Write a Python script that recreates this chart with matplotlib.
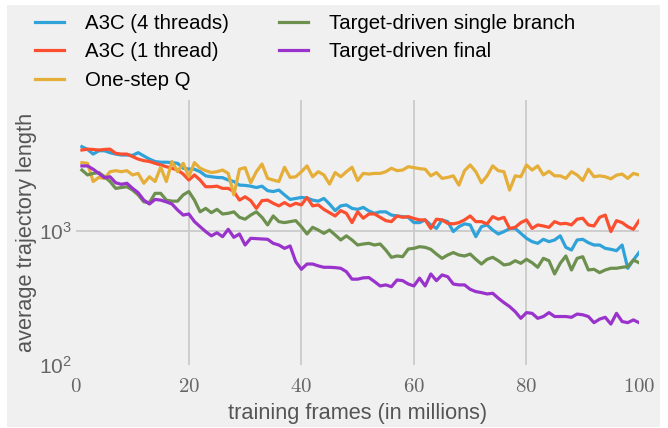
import numpy as np
import matplotlib
matplotlib.use("Agg")
import matplotlib.pyplot as plt
from matplotlib.patches import Rectangle
from matplotlib.ticker import FuncFormatter, FixedLocator, NullLocator, LogFormatterMathtext

# training frames (millions), one point per million
frames = list(range(1, 101))

a3c_4 = [4260, 4060, 3750, 3970, 3970, 3840, 3750, 3690, 3690, 3670,
         3840, 3630, 3440, 3300, 3260, 3260, 3240, 3200, 2940, 2900,
         2890, 2770, 2580, 2540, 2510, 2500, 2400, 2340, 2200, 2190,
         2160, 2110, 2160, 2000, 1970, 2020, 1860, 1720, 1750, 1780,
         1760, 1700, 1670, 1750, 1590, 1420, 1540, 1565, 1475, 1450,
         1500, 1410, 1355, 1390, 1390, 1315, 1295, 1280, 1265, 1155,
         1155, 1210, 1110, 1045, 1210, 1175, 990, 1077, 1130, 1110,
         907, 1077, 1110, 1017, 950, 990, 1040, 1045, 960, 882,
         833, 809, 867, 833, 857, 920, 755, 721, 857, 867,
         818, 786, 786, 742, 730, 713, 786, 527, 607, 690]

a3c_1 = [4020, 4080, 4060, 4020, 4060, 4080, 3800, 3750, 3750, 3590,
         3440, 3350, 3300, 3200, 3110, 3020, 2940, 2850, 2660, 2400,
         2620, 2400, 2140, 2140, 2160, 2080, 2080, 1970, 1700, 1800,
         1685, 1475, 1685, 1700, 1610, 1540, 1630, 1540, 1610, 1565,
         1780, 1540, 1565, 1450, 1370, 1295, 1420, 1355, 1155, 1390,
         1245, 1340, 1340, 1265, 1195, 1175, 1295, 1265, 1280, 1240,
         1210, 1210, 1045, 1225, 1210, 1140, 1130, 1155, 1210, 1295,
         1175, 1175, 1130, 1280, 1225, 1265, 1045, 1065, 1155, 1210,
         1045, 1110, 1090, 1065, 1175, 1130, 1140, 1110, 1225, 1245,
         1110, 1090, 1265, 1315, 990, 1195, 1155, 1077, 1030, 1195]

one_step_q = [3240, 3200, 2340, 2510, 2470, 2770, 2820, 2770, 2820, 2620,
              2690, 2270, 2540, 2340, 2990, 2340, 3300, 2770, 3200, 2540,
              3240, 2940, 2820, 2730, 2770, 2850, 2690, 1860, 2890, 2970,
              2290, 2770, 3160, 2470, 2400, 2340, 2990, 2510, 2540, 2770,
              3060, 2540, 2770, 2620, 2240, 2730, 2540, 2770, 2990, 2380,
              2690, 2660, 2690, 2690, 2770, 2940, 2820, 2850, 3020, 2970,
              2920, 2890, 2580, 2730, 2470, 2510, 2580, 2200, 2820, 3110,
              2770, 2290, 2580, 3060, 2820, 2770, 2020, 2580, 2540, 3110,
              2850, 3060, 2620, 2790, 2580, 2580, 2470, 2770, 2620, 2380,
              2890, 2540, 2580, 2540, 2450, 2610, 2660, 2470, 2690, 2620]

single_branch = [2850, 2620, 2690, 2730, 2540, 2340, 2080, 2110, 2140, 2020,
                 1860, 1650, 1630, 1910, 1910, 1700, 1670, 1670, 1860, 1970,
                 1700, 1390, 1475, 1370, 1450, 1340, 1355, 1390, 1265, 1225,
                 1315, 1390, 1265, 1110, 1295, 1175, 1155, 1175, 1195, 1077,
                 950, 1065, 1017, 960, 1017, 935, 857, 920, 857, 786,
                 800, 809, 786, 800, 721, 636, 651, 643, 734, 742,
                 764, 755, 730, 673, 625, 662, 690, 662, 651, 673,
                 615, 567, 615, 636, 600, 558, 567, 600, 574, 615,
                 580, 536, 625, 600, 478, 574, 651, 512, 625, 643,
                 512, 518, 489, 512, 527, 527, 536, 542, 607, 580]

target_final = [3060, 3060, 2890, 2690, 2500, 2540, 2290, 2230, 2270, 2080,
                1930, 1700, 1590, 1720, 1700, 1650, 1590, 1435, 1315, 1340,
                1175, 1077, 990, 920, 970, 907, 1030, 897, 950, 786,
                882, 877, 872, 867, 809, 786, 742, 773, 590, 518,
                567, 567, 549, 536, 536, 533, 527, 497, 437, 437,
                447, 449, 419, 389, 396, 384, 431, 426, 402, 389,
                445, 389, 478, 426, 470, 456, 402, 396, 396, 367,
                353, 347, 339, 343, 315, 292, 273, 250, 223, 246,
                243, 223, 230, 246, 230, 230, 230, 227, 240, 237,
                230, 207, 220, 227, 202, 243, 211, 207, 217, 207]

labels = ["A3C (4 threads)", "A3C (1 thread)", "One-step Q",
          "Target-driven single branch", "Target-driven final"]
colors = ["#30a2da", "#fc4f30", "#e5ae38", "#6d904f", "#9933cc"]

bg = "#f0f0f0"
plt.rcParams["font.family"] = ["Liberation Sans", "DejaVu Sans"]
plt.rcParams["mathtext.fontset"] = "cm"

fig = plt.figure(figsize=(6.68, 4.28), dpi=100, facecolor="white")
# grey page with a thin white margin, like the source image
fig.patches.append(Rectangle((7 / 668, 1 / 428), 653 / 668, 422 / 428,
                             transform=fig.transFigure, facecolor=bg,
                             edgecolor="none", zorder=-10))
ax = fig.add_axes([0.1142, 0.1472, 0.8424, 0.6192])
ax.set_facecolor(bg)

series = [a3c_4, a3c_1, one_step_q, single_branch, target_final]
for vals, lab, col in zip(series, labels, colors):
    ax.plot(frames, vals, color=col, lw=2.3, label=lab, solid_joinstyle="round")

ax.set_yscale("log")
ax.set_xlim(0, 100)
ax.set_ylim(100, 9500)
ax.xaxis.set_major_locator(FixedLocator([0, 20, 40, 60, 80, 100]))
ax.xaxis.set_major_formatter(FuncFormatter(lambda v, p: "$%d$" % v))
ax.yaxis.set_major_locator(FixedLocator([100, 1000]))
ax.yaxis.set_major_formatter(LogFormatterMathtext())
ax.yaxis.set_minor_locator(NullLocator())
ax.tick_params(length=0, labelsize=15, labelcolor="#666666")
ax.tick_params(axis="x", pad=8.5)
ax.tick_params(axis="y", pad=3)

ax.grid(False)
for v in [20, 40, 60, 80]:
    ax.axvline(v, color="#cbcbcb", lw=1.3, zorder=0)
ax.axhline(1000, color="#cbcbcb", lw=1.3, zorder=0)
for s in ax.spines.values():
    s.set_visible(False)

ax.set_xlabel("training frames (in millions)", fontsize=15.7, color="#555555", labelpad=5.5)
ax.set_ylabel("average trajectory length", fontsize=15.7, color="#555555", labelpad=1.5)

fig.legend(loc="upper left", bbox_to_anchor=(0.0249, 1.01), ncol=2, frameon=False,
           fontsize=14.7, handlelength=1.42, handletextpad=1.03, columnspacing=2.45,
           labelspacing=0.46)

fig.savefig("out.png", dpi=100, facecolor="white")
